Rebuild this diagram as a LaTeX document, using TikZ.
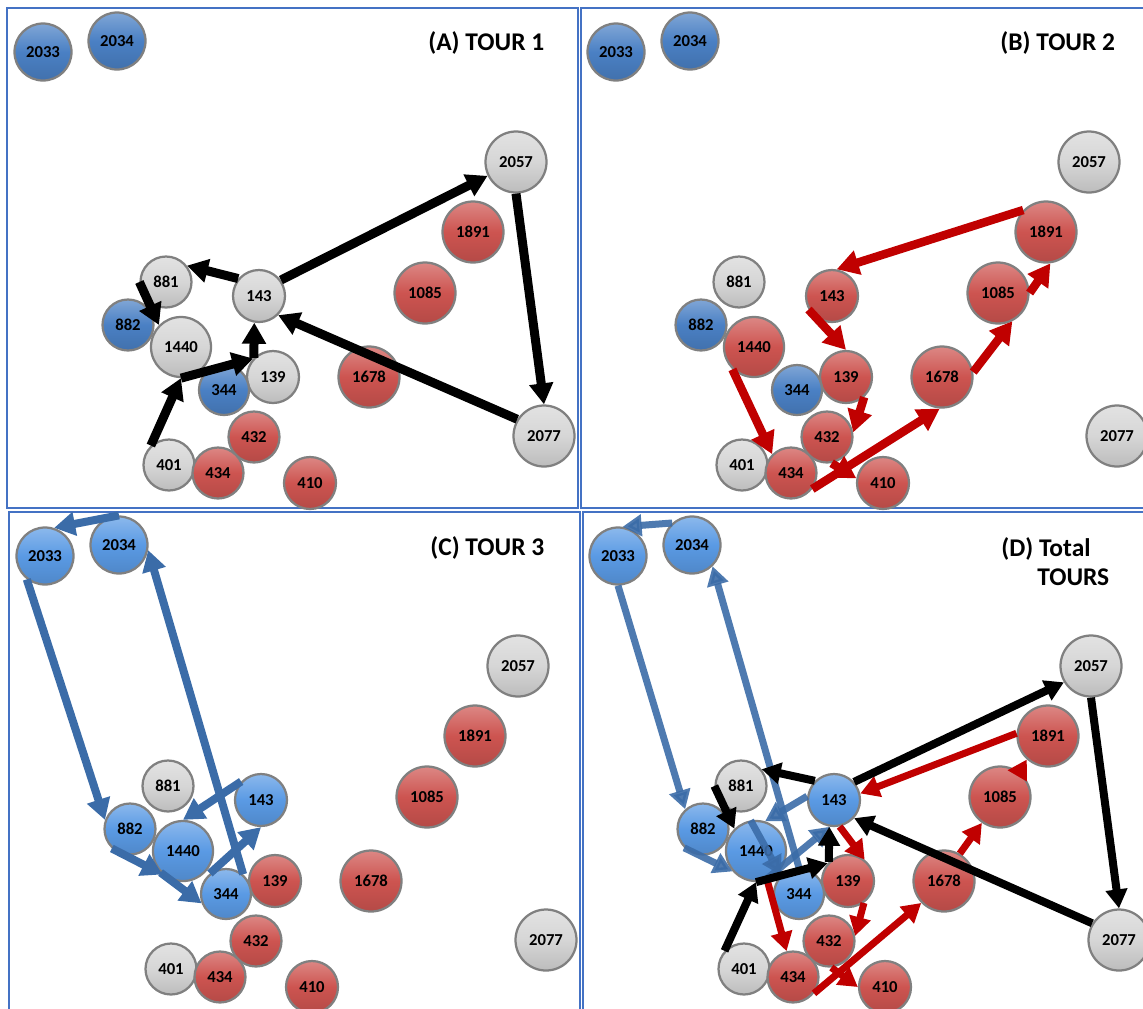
\documentclass[tikz,border=0pt]{standalone}
\usepackage{fontspec}
\setmainfont{Carlito}
\usetikzlibrary{arrows.meta}
\definecolor{ptgrey}{RGB}{214,214,214}
\definecolor{ptblue}{RGB}{74,128,196}
\definecolor{ptsky}{RGB}{90,154,228}
\definecolor{ptred}{RGB}{205,84,80}
\definecolor{tourblue}{RGB}{59,108,168}
\definecolor{tourred}{RGB}{192,0,0}
\definecolor{framec}{RGB}{68,114,196}
\tikzset{
  pt/.style={circle, inner sep=0pt, draw=black!50, line width=0.045cm,
    top color=#1!70!white, bottom color=#1!88!black, middle color=#1,
    font=\fontsize{9.5}{11}\selectfont\bfseries},
  ttl/.style={inner sep=0pt, font=\fontsize{14.5}{16.5}\selectfont\bfseries},
  tourk/.style={draw=black, line width=0.18cm, -{Triangle[length=0.42cm,width=0.46cm]}},
  tourr/.style={draw=tourred, line width=0.17cm, -{Triangle[length=0.44cm,width=0.48cm]}},
  tourb/.style={draw=tourblue, line width=0.16cm, -{Triangle[length=0.42cm,width=0.46cm]}},
  totl/.style={line width=0.14cm, -{Triangle[length=0.38cm,width=0.42cm]}}
}
\begin{document}
\begin{tikzpicture}[x=0.02cm,y=-0.02cm]
\useasboundingbox (0,0) rectangle (1143,1008);
\clip (0,0) rectangle (1143,1008);
\fill[white] (0,0) rectangle (1143,1008);
\draw[framec, line width=0.03cm] (7,8) rectangle (578,508);
\draw[framec, line width=0.03cm] (581,8) rectangle (1160,508);
\draw[framec, line width=0.03cm] (9,512) rectangle (580,1020);
\draw[framec, line width=0.03cm] (583,512) rectangle (1160,1020);
\foreach \p/\i/\dx/\dy in {a/0/0/0, b/1/573/0, c/2/2/504, d/3/575/504}{
  \foreach \n/\x/\y/\d/\ca/\cb/\cc/\cd in {
    2033/43/52/57/ptblue/ptblue/ptsky/ptsky,
    2034/117/41/57/ptblue/ptblue/ptsky/ptsky,
    2057/516/162/61/ptgrey/ptgrey/ptgrey/ptgrey,
    1891/473/232/61/ptred/ptred/ptred/ptred,
    1085/425/293/61/ptred/ptred/ptred/ptred,
    881/166/282/51/ptgrey/ptgrey/ptgrey/ptgrey,
    143/259/296/52/ptgrey/ptred/ptsky/ptsky,
    882/128/325/51/ptblue/ptblue/ptsky/ptsky,
    1440/181/347/60/ptgrey/ptred/ptsky/ptsky,
    1678/369/377/61/ptred/ptred/ptred/ptred,
    139/273/377/52/ptgrey/ptred/ptred/ptred,
    344/224/390/50/ptblue/ptblue/ptsky/ptsky,
    2077/544/436/61/ptgrey/ptgrey/ptgrey/ptgrey,
    432/254/437/51/ptred/ptred/ptred/ptred,
    401/169/465/51/ptgrey/ptgrey/ptgrey/ptgrey,
    434/218/473/51/ptred/ptred/ptred/ptred,
    410/310/483/52/ptred/ptred/ptred/ptred}{
    \edef\ptc{\ifcase\i\ca\or\cb\or\cc\or\cd\fi}
    \node[pt=\ptc, minimum size=\d*0.02cm] (\p\n) at (\x+\dx,\y+\dy) {\n};
  }
}
\node[ttl, anchor=base west] (ta) at (428,50) {(A) TOUR 1};
\node[ttl, anchor=base west] (tb) at (1000,50) {(B) TOUR 2};
\node[ttl, anchor=base west] (tc) at (430,555) {(C) TOUR 3};
\node[ttl, anchor=north west, align=left] (td) at (1001,537) {(D) Total\\\hspace*{0.72cm}TOURS};
\foreach \s/\t in {a143.36/a2057.206, a2057.south/a2077.north, a2077.148/a143.-45,
  a143.140/a881.38, a881.west/a1440.135, a401.133/a1440.south,
  a1440.south/a139.137, a139.135/a143.-100}
  \draw[tourk] (\s) -- (\t);
\foreach \s/\t in {b1891.136/b143.80, b143.210/b139.north, b139.-48/b432.10,
  b432.-80/b410.170, b1440.226/b434.135, b434.-37/b1678.-94,
  b1678.9/b1085.-63, b1085.east/b1891.-82}
  \draw[tourr] (\s) -- (\t);
\foreach \s/\t in {c2034.north/c2033.72, c2033.232/c882.160, c882.227/c1440.229,
  c1440.224/c344.201, c344.128/c143.south, c143.137/c1440.north, c344.49/c2034.-10}
  \draw[tourb] (\s) -- (\t);
\foreach \s/\t in {d2034.132/d2033.81, d2033.south/d882.132, d882.225/d1440.221,
  d1440.100/d344.134, d1440.-75/d143.-99, d143.172/d1440.73, d344.north/d2034.-46}
  \draw[tourb, totl, opacity=0.9] (\s) -- (\t);
\foreach \s/\t in {d1891.175/d143.14, d143.-78/d139.52, d139.-54/d432.11,
  d432.-85/d410.west, d1440.-69/d434.104, d434.-38/d1678.224,
  d1678.60/d1085.235, d1085.52/d1891.228}
  \draw[tourr, totl] (\s) -- (\t);
\foreach \s/\t in {d143.42/d2057.211, d2057.south/d2077.north, d2077.148/d143.-42,
  d143.135/d881.39, d881.west/d1440.134, d401.137/d1440.south,
  d1440.south/d139.139, d139.135/d143.-100}
  \draw[tourk, totl, line width=0.16cm] (\s) -- (\t);
\end{tikzpicture}
\end{document}
